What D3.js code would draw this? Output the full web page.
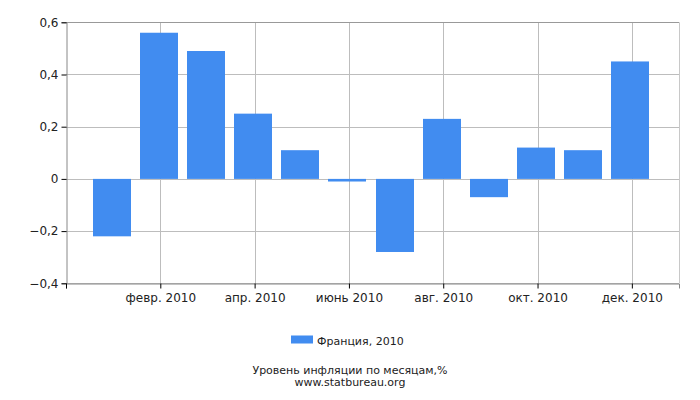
<!DOCTYPE html>
<html><head><meta charset="utf-8">
<script src="https://cdn.jsdelivr.net/npm/d3@7"></script>
<style>body{margin:0;background:#fff}svg{display:block;font-family:"DejaVu Sans",sans-serif}</style>
</head><body>
<script>
const months = ["янв. 2010","февр. 2010","март 2010","апр. 2010","май 2010","июнь 2010","июль 2010","авг. 2010","сент. 2010","окт. 2010","нояб. 2010","дек. 2010"];
const values = [-0.22,0.56,0.49,0.25,0.11,-0.01,-0.28,0.23,-0.07,0.12,0.11,0.45];
const yTicks = [-0.4,-0.2,0,0.2,0.4,0.6];
const xTickIdx = [1,3,5,7,9,11];
const seriesName = "Франция, 2010";
const title = "Уровень инфляции по месяцам,%";
const source = "www.statbureau.org";

const W=700,H=400, L=66, R=679, T=22.3, B=283.3;
const svg=d3.select("body").append("svg").attr("width",W).attr("height",H);
const x=d3.scaleLinear().domain([-1,12]).range([L,R]);
const y=d3.scaleLinear().domain([-0.4,0.6]).range([B,T]);
const fmt=d=>d===0?"0":d3.format(".1f")(d).replace(".",",");

// horizontal grid
svg.append("g").selectAll("line").data(yTicks).join("line")
 .attr("x1",L).attr("x2",R).attr("y1",d=>Math.round(y(d))+0.5).attr("y2",d=>Math.round(y(d))+0.5)
 .attr("stroke","#bdbdbd").attr("stroke-width",1);
// vertical grid
svg.append("g").selectAll("line").data(xTickIdx).join("line")
 .attr("x1",d=>Math.round(x(d))+0.5).attr("x2",d=>Math.round(x(d))+0.5).attr("y1",T).attr("y2",B)
 .attr("stroke","#bdbdbd");
// frame
svg.append("line").attr("x1",L).attr("x2",R).attr("y1",Math.round(T)+0.5).attr("y2",Math.round(T)+0.5).attr("stroke","#999");
svg.append("line").attr("x1",R+0.5).attr("x2",R+0.5).attr("y1",T).attr("y2",B).attr("stroke","#c8c8c8");

// bars
const bw=38;
svg.append("g").selectAll("rect").data(values).join("rect")
 .attr("x",(d,i)=>Math.floor(x(i)-bw/2)-1).attr("width",bw)
 .attr("y",d=>y(Math.max(0,d))).attr("height",d=>Math.abs(y(d)-y(0)))
 .attr("fill","#418cf0");

// axes
const yAxis=d3.axisLeft(y).tickValues(yTicks).tickFormat(fmt).tickSize(5).tickPadding(3);
const gy=svg.append("g").attr("transform",`translate(${L+0.5},0)`).call(yAxis);
gy.select(".domain").attr("stroke","#888");
gy.selectAll(".tick line").attr("stroke","#000");
gy.selectAll("text").attr("font-size",12).attr("fill","#222").attr("font-family","DejaVu Sans");

const xAxis=d3.axisBottom(x).tickValues([-1,...xTickIdx]).tickFormat(d=>d<0?"":months[d]).tickSize(5).tickPadding(5);
const gx=svg.append("g").attr("transform",`translate(0,${Math.round(B)+0.5})`).call(xAxis);
gx.select(".domain").attr("stroke","#888");
gx.selectAll(".tick line").attr("stroke","#000");
gx.selectAll("text").attr("font-size",12).attr("fill","#222").attr("font-family","DejaVu Sans");

// legend
svg.append("rect").attr("x",291).attr("y",335.5).attr("width",22).attr("height",8).attr("fill","#418cf0");
svg.append("text").attr("x",317).attr("y",345).attr("font-size",11).attr("fill","#222").text(seriesName);
svg.append("text").attr("x",350).attr("y",374).attr("text-anchor","middle").attr("font-size",11).attr("fill","#222").text(title);
svg.append("text").attr("x",350).attr("y",386).attr("text-anchor","middle").attr("font-size",11).attr("fill","#222").text(source);
</script>
</body></html>
